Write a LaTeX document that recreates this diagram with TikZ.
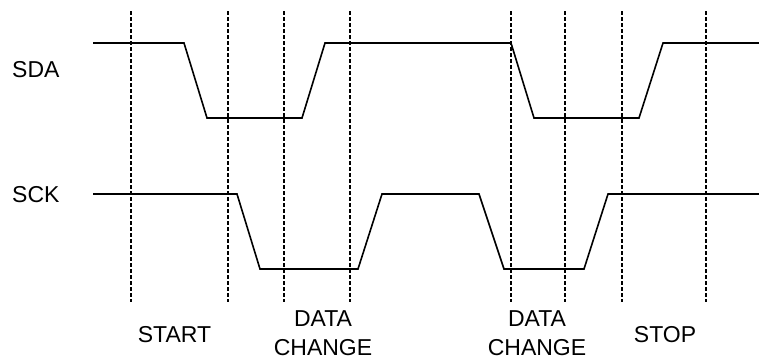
\documentclass[tikz,border=0pt]{standalone}
\usepackage{fontspec}
\setmainfont{Liberation Sans}
\usetikzlibrary{positioning}

\begin{document}
\begin{tikzpicture}[
            x=1pt, y=-1pt,
            signal/.style={line width=1.6pt, line join=miter},
            marker/.style={line width=1.2pt, dash pattern=on 4pt off 2pt},
            label/.style={inner sep=0pt, font=\fontsize{23}{28.5}\selectfont, align=center}
        ]
            \useasboundingbox (0,0) rectangle (759,359);

            % time markers
            \foreach \t in {131,228,284,350,511,565,622,706}
                \draw[marker] (\t,11) -- (\t,302);

            % waveforms
            \draw[signal] (93,43) -- (184,43) -- (207,118) -- (302,118) -- (325,43)
                -- (511,43) -- (534,118) -- (639,118) -- (663,43) -- (759,43);
            \draw[signal] (93,194) -- (237,194) -- (260,269) -- (358,269) -- (382,194)
                -- (479,194) -- (504,269) -- (584,269) -- (608,194) -- (759,194);

            \node[label, anchor=base west] (sda) at (12,77) {SDA};
            \node[label, anchor=base west] (sck) at (12,202) {SCK};
            \node[label, anchor=base] (start) at (174.5,342) {START};
            \node[label, anchor=south] (change1) at (323,355.5) {DATA\\CHANGE};
            \node[label, anchor=south] (change2) at (537,355.5) {DATA\\CHANGE};
            \node[label, anchor=base] (stop) at (665,342) {STOP};
        \end{tikzpicture}
\end{document}
